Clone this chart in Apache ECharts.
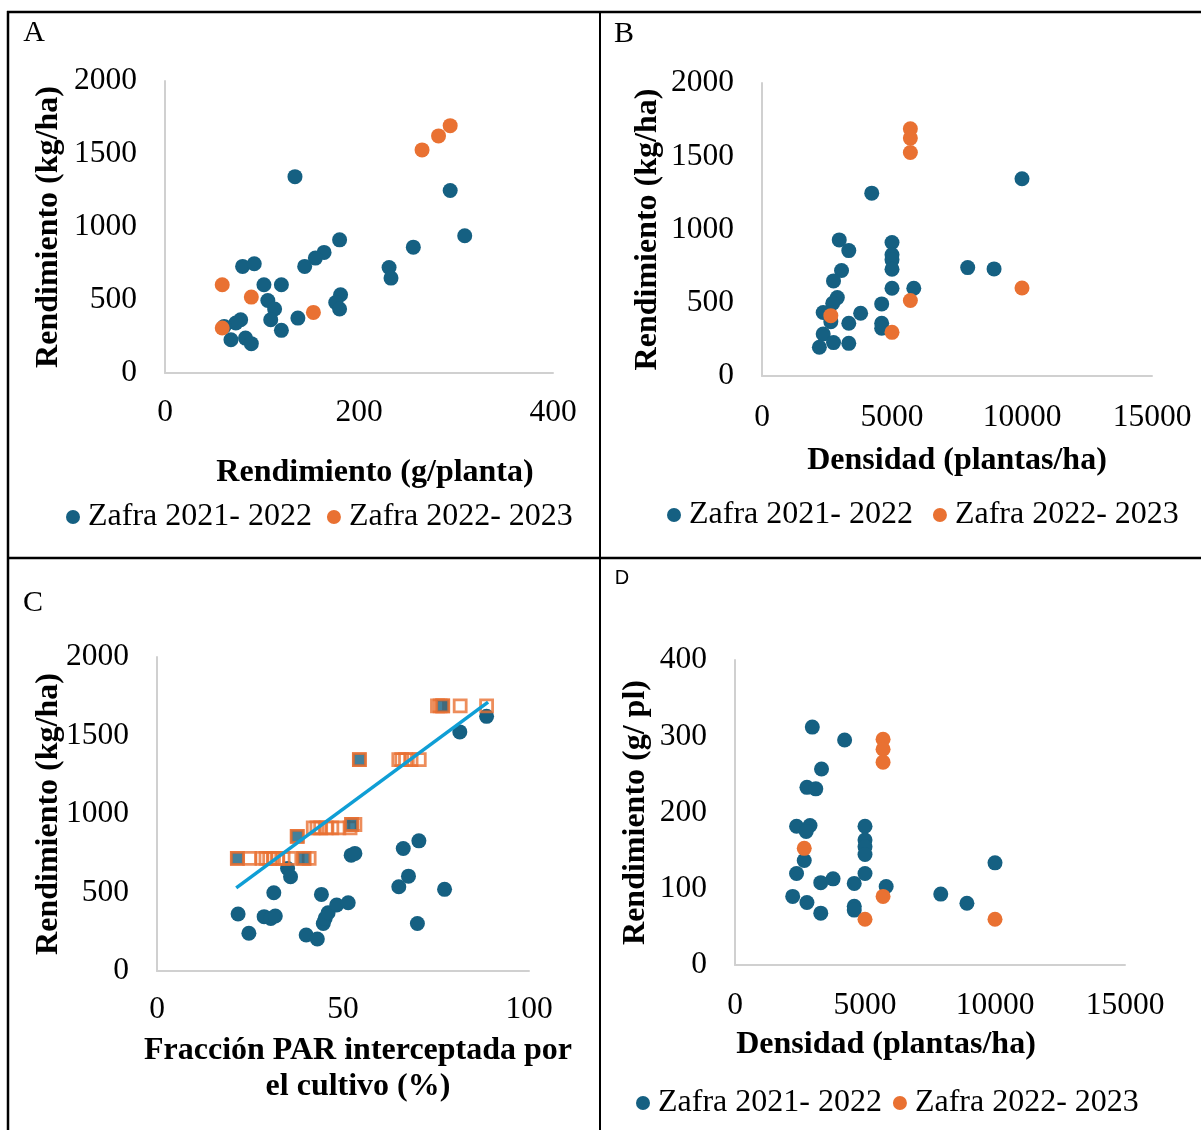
<!DOCTYPE html>
<html>
<head>
<meta charset="utf-8">
<script src="https://cdn.jsdelivr.net/npm/echarts@6/dist/echarts.min.js"></script>
<style>
  body{margin:0;background:#fff;}
  #chart{width:1201px;height:1130px;}
</style>
</head>
<body>
<div id="chart"></div>
<script>
// serie names
var s1 = 'Zafra 2021- 2022';
var s2 = 'Zafra 2022- 2023';

// A: rendimiento g/planta vs kg/ha
var aBlue = [[134,1345],[294,1250],[309,940],[256,862],[180,912],[164,826],[155,787],[144,730],[80,730],[92,748],
  [231,723],[233,650],[102,604],[120,604],[106,497],[113,438],[109,365],[137,376],[120,292],[181,536],[176,483],
  [180,438],[78,365],[73,342],[61,319],[68,228],[83,239],[89,201]];
var aOrange = [[294,1694],[282,1624],[265,1528],[59,604],[89,520],[153,415],[59,308]];

// B: densidad vs kg/ha
var bBlue = [[10000,1346],[4221,1248],[2971,929],[3338,856],[5000,911],[5000,827],[5000,793],[5000,729],[7912,740],
  [8926,731],[3059,720],[2750,649],[5000,599],[5838,599],[2897,535],[2721,497],[4603,492],[2353,433],[3794,428],
  [2647,371],[3338,360],[4603,360],[4603,326],[2353,287],[2750,228],[3338,223],[2206,196]];
var bOrange = [[5706,1688],[5706,1624],[5706,1526],[10000,601],[5706,515],[2647,412],[5000,298]];

// C: fraccion PAR vs kg/ha
var cBlue = [[88.6,1622],[81.4,1523],[52.2,738],[53.2,749],[70.4,829],[66.2,780],[67.6,604],[65.0,537],[77.3,520],
  [70.0,303],[35.1,653],[35.9,600],[31.4,498],[44.2,488],[21.8,363],[28.8,346],[30.6,335],[31.8,350],[24.7,240],
  [40.1,229],[43.1,204],[44.7,303],[45.2,335],[46.0,371],[48.3,420],[51.4,435]];
var cSquares = [[21.6,717],[24.9,717],[28.2,717],[29.3,717],[30.3,717],[31.3,717],[32.4,717],[33.9,717],[35.7,717],
  [39.5,717],[40.9,717],[37.7,858],[42.0,912],[43.0,912],[44.0,912],[45.5,912],[47.0,912],[48.9,912],[51.9,912],
  [52.3,933],[53.2,933],[54.4,1346],[65.0,1346],[65.8,1346],[66.8,1346],[68.3,1346],[70.5,1346],
  [75.4,1689],[76.1,1689],[76.8,1689],[81.5,1689],[88.6,1689]];
var cFilled = [[21.6,717],[39.5,717],[37.7,858],[52.3,933],[54.4,1346],[76.8,1689]];
var cTrend = [[21.3,530],[89.0,1713]];

// D: densidad vs g/pl
var dBlue = [[2973,312],[4216,295],[3328,257],[2766,233],[3107,231],[2367,182],[2885,183],[2737,175],[5000,182],
  [5000,164],[5000,155],[5000,145],[2663,137],[10000,134],[2367,120],[5000,120],[3299,108],[3772,113],[4586,107],
  [5814,103],[7914,93],[8920,81],[2219,90],[2766,82],[3299,68],[4586,77],[4586,72]];
var dOrange = [[5695,296],[5695,283],[5695,266],[2663,153],[5695,90],[5000,60],[10000,60]];

var blue = '#156082', orange = '#E97132', lineBlue = '#0F9ED5';
var serif = 'Liberation Serif';

function plain(v){ return String(v); }

// shift: move the axis title right (+) or left (-)
function xAx(grid, max, interval, name, gap, shift, margin){
  var pad = shift >= 0 ? [0, 0, 0, 2 * shift] : [0, -2 * shift, 0, 0];
  return {
    type:'value', gridIndex:grid, min:0, max:max, interval:interval,
    name:name, nameLocation:'middle', nameGap:gap, nameMoveOverlap:false,
    nameTextStyle:{fontFamily:serif, fontWeight:'bold', fontSize:32, color:'#000', lineHeight:36, padding:pad},
    axisLine:{show:true, lineStyle:{color:'#d0d0d0', width:2}},
    axisTick:{show:false}, splitLine:{show:false},
    axisLabel:{fontFamily:serif, fontSize:31.5, color:'#000', margin:margin, formatter:plain}
  };
}
function yAx(grid, max, interval, name, gap){
  return {
    type:'value', gridIndex:grid, min:0, max:max, interval:interval,
    name:name, nameLocation:'middle', nameGap:gap, nameRotate:90, nameMoveOverlap:false,
    nameTextStyle:{fontFamily:serif, fontWeight:'bold', fontSize:32, color:'#000'},
    axisLine:{show:true, lineStyle:{color:'#d0d0d0', width:2}},
    axisTick:{show:false}, splitLine:{show:false},
    axisLabel:{fontFamily:serif, fontSize:31.5, color:'#000', margin:28, formatter:plain}
  };
}
function leg(left, top, gap){
  return {
    data:[s1, s2], left:left, top:top, icon:'circle', itemWidth:20, itemHeight:14, itemGap:gap,
    padding:0, selectedMode:false,
    textStyle:{fontFamily:serif, fontSize:32, color:'#000'}
  };
}
function dots(name, data, idx, color){
  return {
    name:name, type:'scatter', data:data, xAxisIndex:idx, yAxisIndex:idx,
    symbol:'circle', symbolSize:15, itemStyle:{color:color, opacity:1}
  };
}

var chart = echarts.init(document.getElementById('chart'));
var option = {
  backgroundColor:'#fff',
  animation:false,
  grid:[
    {left:165, top:81, width:388, height:292},
    {left:762, top:83, width:390, height:293},
    {left:157, top:657, width:372, height:314},
    {left:735, top:660, width:390, height:305}
  ],
  xAxis:[
    xAx(0, 400, 200, 'Rendimiento (g/planta)', 82, 16, 24),
    xAx(1, 15000, 5000, 'Densidad (plantas/ha)', 67, 0, 26),
    xAx(2, 100, 50, 'Fracción PAR interceptada por\nel cultivo (%)', 62, 15, 23),
    xAx(3, 15000, 5000, 'Densidad (plantas/ha)', 62, -44, 25)
  ],
  yAxis:[
    yAx(0, 2000, 500, 'Rendimiento (kg/ha)', 100),
    yAx(1, 2000, 500, 'Rendimiento (kg/ha)', 98),
    yAx(2, 2000, 500, 'Rendimiento (kg/ha)', 92),
    yAx(3, 400, 100, 'Rendimiento (g/ pl)', 83)
  ],
  legend:[leg(66, 501, 15), leg(667, 499, 20), leg(636, 1087, 11)],
  series:[
    dots(s1, aBlue, 0, blue),
    dots(s2, aOrange, 0, orange),
    dots(s1, bBlue, 1, blue),
    dots(s2, bOrange, 1, orange),
    dots(s1, cBlue, 2, blue),
    {
      name:'C cuadros', type:'scatter', data:cSquares, xAxisIndex:2, yAxisIndex:2,
      symbol:'rect', symbolSize:12,
      itemStyle:{color:'rgba(255,255,255,0)', borderColor:orange, borderWidth:2.8}
    },
    {
      name:'C relleno', type:'scatter', data:cFilled, xAxisIndex:2, yAxisIndex:2,
      symbol:'rect', symbolSize:12,
      itemStyle:{color:blue, borderColor:orange, borderWidth:2.8}
    },
    {
      name:'C tendencia', type:'line', data:cTrend, xAxisIndex:2, yAxisIndex:2,
      symbol:'none', lineStyle:{color:lineBlue, width:3.5}, z:5
    },
    dots(s1, dBlue, 3, blue),
    dots(s2, dOrange, 3, orange)
  ],
  graphic:[
    {type:'line', shape:{x1:7, y1:12, x2:1201, y2:12}, style:{stroke:'#000', lineWidth:2.5}},
    {type:'line', shape:{x1:8, y1:11, x2:8, y2:1130}, style:{stroke:'#000', lineWidth:2.5}},
    {type:'line', shape:{x1:600, y1:12, x2:600, y2:1130}, style:{stroke:'#000', lineWidth:2}},
    {type:'line', shape:{x1:8, y1:558, x2:1201, y2:558}, style:{stroke:'#000', lineWidth:2.5}},
    {type:'text', x:34, y:33, style:{text:'A', font:'30px "Liberation Serif"', fill:'#000', align:'center', verticalAlign:'middle'}},
    {type:'text', x:624, y:34, style:{text:'B', font:'30px "Liberation Serif"', fill:'#000', align:'center', verticalAlign:'middle'}},
    {type:'text', x:33, y:603, style:{text:'C', font:'30px "Liberation Serif"', fill:'#000', align:'center', verticalAlign:'middle'}},
    {type:'text', x:622, y:578, style:{text:'D', font:'20px "Liberation Sans"', fill:'#000', align:'center', verticalAlign:'middle'}}
  ]
};
chart.setOption(option);
</script>
</body>
</html>
